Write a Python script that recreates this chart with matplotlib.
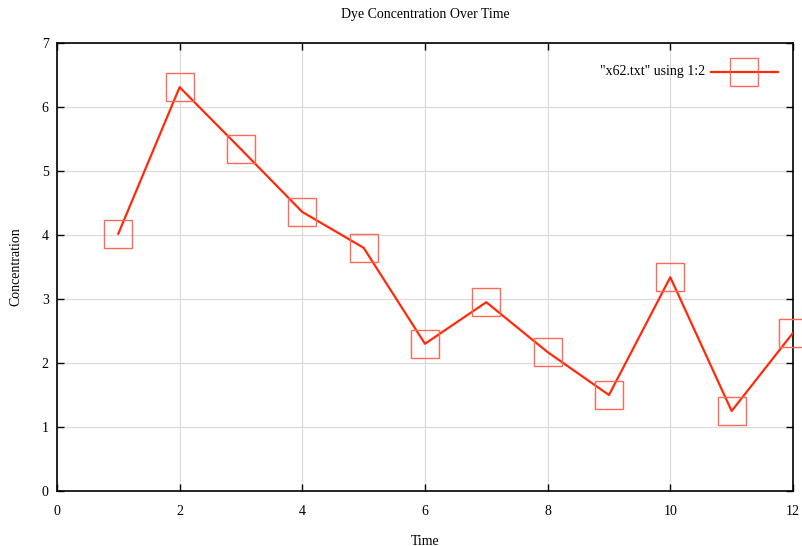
import matplotlib
matplotlib.use("Agg")
import matplotlib.pyplot as plt
from matplotlib.ticker import MultipleLocator

plt.rcParams['font.family'] = ['Liberation Serif', 'DejaVu Serif']

time = [1, 2, 3, 4, 5, 6, 7, 8, 9, 10, 11, 12]
concentration = [4.02, 6.31, 5.34, 4.36, 3.80, 2.30, 2.95, 2.17, 1.50, 3.34, 1.25, 2.47]
x_ticks = [0, 2, 4, 6, 8, 10, 12]
y_ticks = [0, 1, 2, 3, 4, 5, 6, 7]

fig = plt.figure(figsize=(8.03, 5.46), dpi=100)
ax = fig.add_axes([57 / 803, 1 - 491 / 546, (793 - 57) / 803, (491 - 43) / 546])

line_color = '#ff2a0a'
marker_color = '#ff6a58'

ax.plot(time, concentration, color=line_color, lw=1.6, zorder=3,
        label='"x62.txt" using 1:2')
ax.plot(time, concentration, ls='none', marker='s', ms=19.5, mfc='none',
        mec=marker_color, mew=1.0, clip_on=False, zorder=4)

# legend drawn by hand so the sample combines line and square
lx0, lx1, ly = 0.889, 0.979, 0.936
ax.plot([lx0, lx1], [ly, ly], transform=ax.transAxes, color=line_color, lw=1.6)
ax.plot([(lx0 + lx1) / 2], [ly], transform=ax.transAxes, ls='none', marker='s',
        ms=19.5, mfc='none', mec=marker_color, mew=1.0)
ax.text(lx0 - 0.008, ly, '"x62.txt" using 1:2', transform=ax.transAxes,
        ha='right', va='center', fontsize=10)

ax.set_xlim(0, 12)
ax.set_ylim(0, 7)
ax.set_xticks(x_ticks)
ax.set_yticks(y_ticks)
ax.xaxis.set_minor_locator(MultipleLocator(100))
ax.grid(True, color='#dcdcdc', lw=0.9)
ax.set_axisbelow(True)
ax.tick_params(direction='in', length=5, width=1, top=True, right=True,
               labelsize=10, pad=10)
ax.tick_params(axis='y', pad=6)
for s in ax.spines.values():
    s.set_linewidth(1.2)

ax.set_title('Dye Concentration Over Time', fontsize=10, pad=18)
ax.set_xlabel('Time', fontsize=10, labelpad=12)
ax.set_ylabel('Concentration', fontsize=10, labelpad=14)

fig.savefig('out.png', dpi=100)
